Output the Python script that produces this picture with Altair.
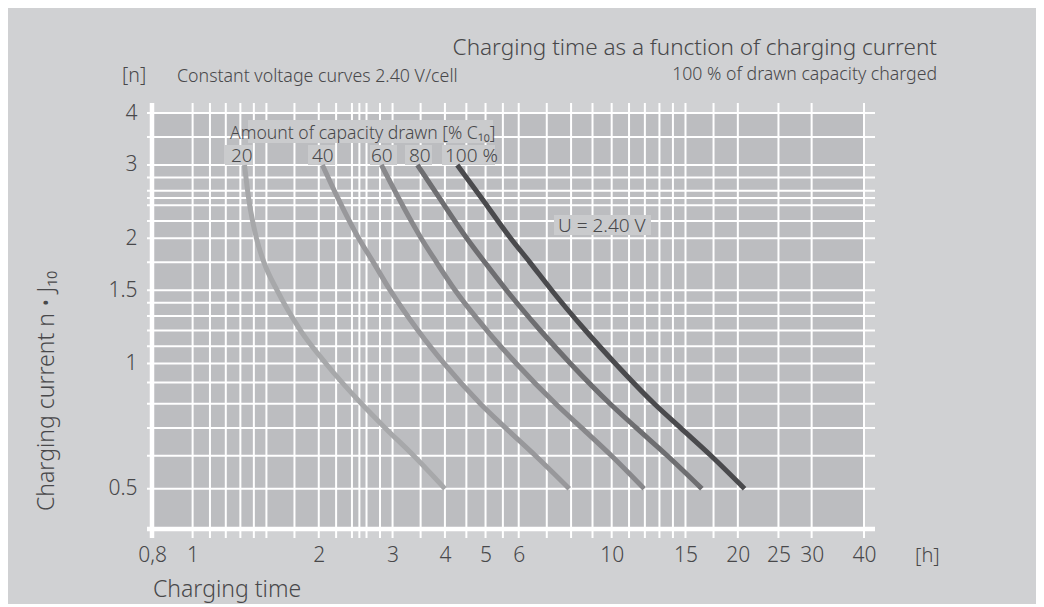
import altair as alt
import pandas as pd

# ---- data ----
# charging current levels n (multiples of J10), shared by every curve
n_levels = [3.0, 2.5, 2.0, 1.75, 1.5, 1.2, 1.0, 0.8, 0.7, 0.6, 0.5]
# charging time [h] at those current levels, one list per amount of capacity drawn
t20 = [1.33, 1.36, 1.42, 1.48, 1.59, 1.81, 2.08, 2.53, 2.88, 3.37, 4.0]
t40 = [2.04, 2.22, 2.49, 2.70, 2.96, 3.45, 3.98, 4.86, 5.58, 6.58, 7.92]
t60 = [2.82, 3.10, 3.51, 3.82, 4.23, 5.04, 5.92, 7.35, 8.48, 9.99, 11.95]
t80 = [3.44, 3.88, 4.51, 4.98, 5.61, 6.76, 7.97, 9.91, 11.45, 13.58, 16.41]
t100 = [4.28, 4.89, 5.74, 6.38, 7.19, 8.66, 10.20, 12.64, 14.60, 17.26, 20.75]

series_names = ["20", "40", "60", "80", "100"]
series_colors = ["#A7A8AA", "#98989B", "#88888B", "#6E6E71", "#4A4A4D"]

x_ticks = [0.8, 1, 2, 3, 4, 5, 6, 10, 15, 20, 25, 30, 40]
y_ticks = [0.5, 1, 1.5, 2, 3, 4]
x_grid = [1, 1.1, 1.2, 1.3, 1.4, 1.5, 1.75, 2, 2.2, 2.4, 2.5, 2.6, 2.8, 3, 3.5, 4,
          4.5, 5, 5.5, 6, 7, 8, 9, 10, 11, 12, 13, 14, 15, 17.5, 20, 25, 30, 40]
y_grid = [0.5, 0.6, 0.7, 0.8, 0.9, 1, 1.1, 1.2, 1.3, 1.4, 1.5, 1.75, 2, 2.2, 2.4,
          2.5, 2.6, 2.8, 3, 3.5, 4]
x_domain = [0.8, 40]
y_domain = [0.4, 4]

FONT = "Noto Sans"
WEIGHT = 300
TXT = "#48484A"
W, H = 712, 416

rows = []
for name, ts in zip(series_names, [t20, t40, t60, t80, t100]):
    for i, (t, n) in enumerate(zip(ts, n_levels)):
        rows.append({"series": name, "t": t, "n": n, "order": i})
curves_df = pd.DataFrame(rows)

xs = alt.Scale(type="log", domain=x_domain, nice=False)
ys = alt.Scale(type="log", domain=y_domain, nice=False)

x_axis = alt.Axis(
    values=x_ticks, labelExpr="datum.value < 0.9 ? '0,8' : format(datum.value, '~g')",
    grid=False, ticks=False, domain=False, title=None, labelFont=FONT, labelFontWeight=WEIGHT,
    labelFontSize=21, labelColor=TXT, labelPadding=15, labelBaseline="top", labelFlush=False,
    labelOverlap=False)
y_axis = alt.Axis(
    values=y_ticks, format="~g", grid=False, ticks=False, domain=False, title=None,
    labelFont=FONT, labelFontWeight=WEIGHT, labelFontSize=21, labelColor=TXT, labelPadding=15,
    labelFlush=False, labelOverlap=False)

vgrid = alt.Chart(pd.DataFrame({"v": x_grid})).mark_rule(color="white", strokeWidth=2).encode(
    x=alt.X("v:Q", scale=xs, axis=x_axis), y=alt.value(-10), y2=alt.value(H + 9))
hgrid = alt.Chart(pd.DataFrame({"v": y_grid})).mark_rule(color="white", strokeWidth=2).encode(
    y=alt.Y("v:Q", scale=ys, axis=y_axis), x=alt.value(-5), x2=alt.value(W + 11))
left_line = alt.Chart(pd.DataFrame({"v": [x_domain[0]]})).mark_rule(color="white", strokeWidth=4.5).encode(
    x=alt.X("v:Q", scale=xs, axis=x_axis), y=alt.value(-10), y2=alt.value(H + 9))
bottom_line = alt.Chart(pd.DataFrame({"v": [y_domain[0]]})).mark_rule(color="white", strokeWidth=4.5).encode(
    y=alt.Y("v:Q", scale=ys, axis=y_axis), x=alt.value(-5), x2=alt.value(W + 11))

curves = alt.Chart(curves_df).mark_line(strokeWidth=5, interpolate="monotone", strokeCap="butt").encode(
    x=alt.X("t:Q", scale=xs, axis=x_axis),
    y=alt.Y("n:Q", scale=ys, axis=y_axis),
    color=alt.Color("series:N", scale=alt.Scale(domain=series_names, range=series_colors), legend=None),
    order="order:Q",
)


def box(x1, x2, y1, y2):
    return alt.Chart(pd.DataFrame({"a": [0]})).mark_rect(color="#CACBCD").encode(
        x=alt.value(x1), x2=alt.value(x2), y=alt.value(y1), y2=alt.value(y2))


def txt(s, x, y, size, align="left", angle=0, baseline="alphabetic"):
    return alt.Chart(pd.DataFrame({"label": [s]})).mark_text(
        font=FONT, fontWeight=WEIGHT, fontSize=size, color=TXT, align=align, angle=angle,
        baseline=baseline).encode(text="label:N", x=alt.value(x), y=alt.value(y))


boxes = [box(96, 341, 7, 30), box(73, 101, 32, 52), box(156, 183, 32, 52),
         box(218, 245, 32, 52), box(253, 280, 32, 52), box(290, 343, 32, 52),
         box(402, 499, 102, 122)]

texts = [
    txt("Charging time as a function of charging current", 785, -58, 22.5, align="right"),
    txt("100 % of drawn capacity charged", 785, -33, 17.7, align="right"),
    txt("[n]", -30, -31, 19.5),
    txt("Constant voltage curves 2.40 V/cell", 25, -31, 17.8),
    txt("Amount of capacity drawn [% C₁₀]", 78, 26, 17.6),
    txt("20", 79, 49, 19),
    txt("40", 160, 49, 19),
    txt("60", 219, 49, 19),
    txt("80", 257, 49, 19),
    txt("100 %", 293, 49, 19),
    txt("U = 2.40 V", 406, 119, 19),
    txt("[h]", 763, 449, 20),
    txt("Charging time", 1, 484, 23),
    txt("Charging current n • J₁₀", -105, 278, 23, align="center", angle=270, baseline="middle"),
]

chart = alt.layer(vgrid, hgrid, left_line, bottom_line, *boxes, curves, *texts).properties(
    width=W, height=H,
    autosize=alt.AutoSizeParams(type="none"),
    padding={"left": 144, "top": 105, "right": 172, "bottom": 75},
    background="#D0D1D3",
).configure_view(fill="#BCBDC0", strokeWidth=0)

chart.save("out.html", embed_options={"renderer": "svg", "actions": False})
